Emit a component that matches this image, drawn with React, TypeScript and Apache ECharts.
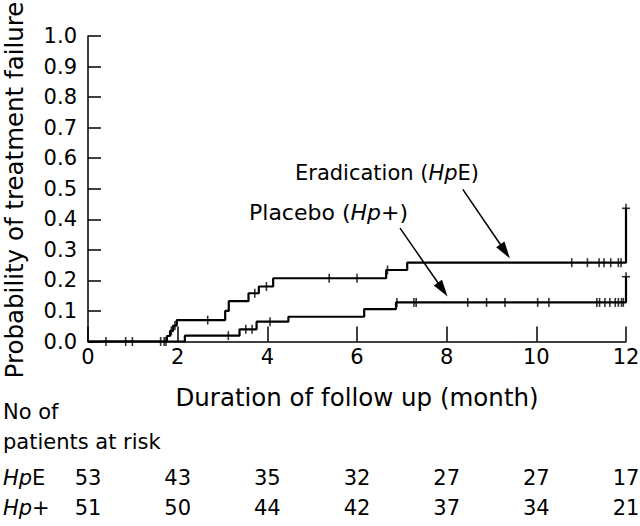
import React, { useEffect, useRef } from "react";
import * as echarts from "echarts";

// ---- data ----
const xTickMonths = [0, 2, 4, 6, 8, 10, 12];
const riskHpE = [53, 43, 35, 32, 27, 27, 17];
const riskHpPlus = [51, 50, 44, 42, 37, 34, 21];

// Kaplan–Meier step points: [month, cumulative probability of failure]
const hpeSteps: [number, number][] = [
  [0, 0], [1.76, 0.018], [1.83, 0.035], [1.9, 0.052], [1.98, 0.07],
  [3.06, 0.1], [3.14, 0.132], [3.58, 0.158], [3.81, 0.18], [4.13, 0.207],
  [6.65, 0.234], [7.12, 0.258], [12, 0.436],
];
const hpPlusSteps: [number, number][] = [
  [0, 0], [2.16, 0.019], [3.38, 0.04], [3.76, 0.065], [4.47, 0.081],
  [6.16, 0.106], [6.87, 0.128], [12, 0.212],
];
// censoring times (months)
const hpeCensor = [
  0.4, 0.84, 0.99, 1.62, 1.7, 1.74, 1.86, 1.94, 2.67, 3.72, 3.98, 5.38, 6.0,
  6.68, 10.79, 11.14, 11.4, 11.51, 11.66, 11.83, 11.89, 12,
];
const hpPlusCensor = [
  3.13, 3.52, 3.66, 4.06, 6.89, 7.27, 7.32, 8.47, 8.89, 9.3, 10.03, 10.28,
  11.35, 11.41, 11.53, 11.64, 11.76, 11.83, 11.9, 11.94, 12,
];
// annotation arrows: [start, tip] in data coordinates
const arrowHpE: [number, number][] = [[8.36, 0.498], [9.41, 0.272]];
const arrowHpPlus: [number, number][] = [[6.96, 0.371], [8.02, 0.147]];

const FONT = "'DejaVu Sans', sans-serif";
const FS = 21;
const FS_TITLE = 24.5;

function levelAt(steps: [number, number][], t: number): number {
  let v = 0;
  for (const [x, y] of steps) {
    if (x <= t) v = y;
  }
  return v;
}

export default function App() {
  const ref = useRef<HTMLDivElement>(null);
  useEffect(() => {
    if (!ref.current) return;
    const chart = echarts.init(ref.current, null, { renderer: "svg" });
    const labelStyle = { color: "#000", fontSize: FS, fontFamily: FONT };
    const censorData = [
      ...hpeCensor.map((t) => [t, levelAt(hpeSteps, t)]),
      ...hpPlusCensor.map((t) => [t, levelAt(hpPlusSteps, t)]),
    ];
    const finalData = [
      hpeSteps[hpeSteps.length - 1],
      hpPlusSteps[hpPlusSteps.length - 1],
    ];
    const riskAxis = (vals: number[], offset: number) => ({
      type: "value",
      min: 0,
      max: 12,
      interval: 2,
      position: "bottom",
      offset,
      axisLine: { show: false },
      axisTick: { show: false },
      splitLine: { show: false },
      axisLabel: {
        ...labelStyle,
        margin: 5,
        formatter: (v: number) => {
          const i = xTickMonths.indexOf(v);
          return i >= 0 ? String(vals[i]) : "";
        },
      },
    });
    chart.setOption({
      animation: false,
      grid: { left: 88, right: 14, top: 36, bottom: 184.5, outerBoundsMode: "none" },
      xAxis: [
        {
          type: "value",
          min: 0,
          max: 12,
          interval: 2,
          axisLine: { show: true, lineStyle: { color: "#000", width: 1.5 } },
          axisTick: { show: true, inside: true, length: 15, lineStyle: { color: "#000", width: 1.5 } },
          axisLabel: { ...labelStyle, margin: 5, formatter: (v: number) => String(v) },
          splitLine: { show: false },
          name: "Duration of follow up (month)",
          nameLocation: "middle",
          nameGap: 43,
          nameTextStyle: { ...labelStyle, fontSize: FS_TITLE },
        },
        riskAxis(riskHpE, 121),
        riskAxis(riskHpPlus, 151),
      ],
      yAxis: {
        type: "value",
        min: 0,
        max: 1,
        interval: 0.1,
        axisLine: { show: true, lineStyle: { color: "#000", width: 1.5 } },
        axisTick: { show: true, inside: true, length: 13, lineStyle: { color: "#000", width: 1.5 } },
        axisLabel: { ...labelStyle, margin: 11, formatter: (v: number) => v.toFixed(1) },
        splitLine: { show: false },
      },
      series: [
        {
          type: "line",
          name: "HpE",
          step: "end",
          data: hpeSteps,
          symbol: "none",
          silent: true,
          lineStyle: { color: "#000", width: 2.2 },
        },
        {
          type: "line",
          name: "Hp+",
          step: "end",
          data: hpPlusSteps,
          symbol: "none",
          silent: true,
          lineStyle: { color: "#000", width: 2.2 },
        },
        {
          type: "scatter",
          data: censorData,
          symbol: "rect",
          symbolSize: [1.6, 9],
          silent: true,
          itemStyle: { color: "#000" },
          z: 5,
        },
        {
          type: "scatter",
          data: finalData,
          symbol: "rect",
          symbolSize: [8, 1.6],
          silent: true,
          itemStyle: { color: "#000" },
          z: 5,
        },
      ],
    });

    const toPx = (p: [number, number]) =>
      chart.convertToPixel({ seriesIndex: 0 }, p) as number[];
    const arrowEls = (arr: [number, number][]) => {
      const s = toPx(arr[0]);
      const t = toPx(arr[1]);
      const dx = t[0] - s[0];
      const dy = t[1] - s[1];
      const len = Math.hypot(dx, dy);
      const ux = dx / len;
      const uy = dy / len;
      const hl = 17;
      const hw = 5;
      const bx = t[0] - ux * hl;
      const by = t[1] - uy * hl;
      return [
        {
          type: "line",
          shape: { x1: s[0], y1: s[1], x2: bx + ux * 2, y2: by + uy * 2 },
          style: { stroke: "#000", lineWidth: 1.5 },
          silent: true,
        },
        {
          type: "polygon",
          shape: {
            points: [
              [t[0], t[1]],
              [bx - uy * hw, by + ux * hw],
              [bx + uy * hw, by - ux * hw],
            ],
          },
          style: { fill: "#000" },
          silent: true,
        },
      ];
    };
    const txt = (
      x: number,
      y: number,
      text: string,
      align = "left",
      rotation = 0,
      fs = FS
    ) => ({
      type: "text",
      x,
      y,
      rotation,
      silent: true,
      style: {
        text,
        fill: "#000",
        fontSize: fs,
        fontFamily: FONT,
        align,
        verticalAlign: "middle",
        textAlign: align,
        textVerticalAlign: "middle",
        rich: {
          i: { fontSize: fs, fontFamily: FONT, fontStyle: "italic", fill: "#000" },
          n: { fontSize: fs, fontFamily: FONT, fill: "#000" },
        },
      },
    });
    chart.setOption({
      graphic: [
        txt(14, 190, "Probability of treatment failure", "center", Math.PI / 2, FS_TITLE),
        txt(295, 173, "{n|Eradication (}{i|Hp}{n|E)}"),
        txt(249, 212, "{n|Placebo (}{i|Hp}{n|+)}", "left", 0, 22),
        txt(3, 412, "No of"),
        txt(3, 442, "patients at risk"),
        txt(3, 478, "{i|Hp}{n|E}"),
        txt(3, 508, "{i|Hp}{n|+}"),
        ...arrowEls(arrowHpE),
        ...arrowEls(arrowHpPlus),
      ],
    });
    return () => chart.dispose();
  }, []);
  return (
    <div
      ref={ref}
      style={{ position: "absolute", left: 0, top: 0, width: 640, height: 526, background: "#fff" }}
    />
  );
}
